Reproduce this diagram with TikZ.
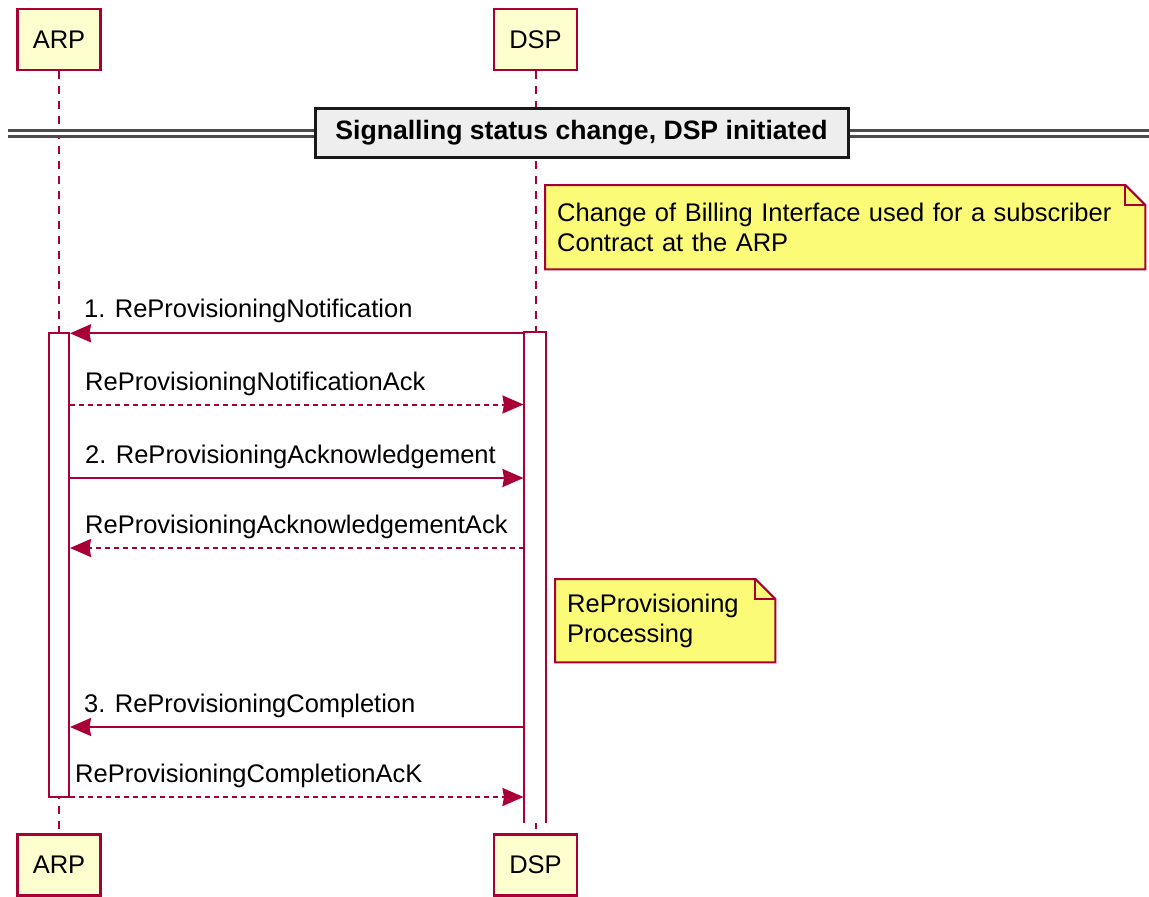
\documentclass[tikz,border=0pt]{standalone}
\usepackage{fontspec}
\setmainfont{Liberation Sans}
\usetikzlibrary{positioning, arrows.meta, backgrounds}

\definecolor{umlborder}{HTML}{A80036}
\definecolor{umlpart}{HTML}{FEFECE}
\definecolor{umlnote}{HTML}{FBFB77}
\definecolor{umldiv}{HTML}{EEEEEE}

\newcommand{\umlfont}{\fontsize{25.5}{30}\selectfont}

\tikzset{
    participant/.style={draw=umlborder, fill=umlpart, line width=2.2pt,
        minimum width=83pt, minimum height=61pt, inner sep=0pt, font=\umlfont},
    lifeline/.style={draw=umlborder, line width=2pt, dash pattern=on 8pt off 7pt},
    actbar/.style={draw=umlborder, fill=white, line width=2pt,
        minimum width=20.5pt, inner sep=0pt},
    msgline/.style={draw=umlborder, line width=2pt,
        -{Stealth[length=21pt, width=18pt, inset=1.5pt]}},
    replyline/.style={msgline, dash pattern=on 5pt off 4pt},
    msglabel/.style={anchor=base west, inner sep=0pt, font=\umlfont},
    notebox/.style={anchor=north west, inner xsep=12pt, inner ysep=0pt,
        align=left, font=\umlfont},
    noteshape/.style={draw=umlborder, fill=umlnote, line width=2pt},
    divbox/.style={draw=black!90, fill=umldiv, line width=3pt,
        minimum width=533pt, minimum height=49pt,
        font=\fontsize{26.6}{30}\selectfont\bfseries},
    divline/.style={draw=black!70, line width=2.2pt, double=white, double distance=3.8pt},
}

\begin{document}
\begin{tikzpicture}[x=1pt, y=-1pt]
    \useasboundingbox (0,0) rectangle (1149,897);

    % participants
    \node[participant] (arptop) at (59,39.5) {ARP};
    \node[participant] (dsptop) at (535.5,39.5) {DSP};
    \node[participant] (arpbot) at (59,865) {ARP};
    \node[participant] (dspbot) at (535.5,865) {DSP};

    % lifelines
    \draw[lifeline] (arptop.south) -- (arpbot.north);
    \draw[lifeline] (dsptop.south) -- (dspbot.north);

    % divider
    \node[divbox] (divider) at (581.5,132.5) {Signalling status change, DSP initiated};
    \coordinate (divl) at (8,133.5);
    \coordinate (divr) at (1149,133.5);
    \draw[divline] (divl) -- (divider.west |- divl);
    \draw[divline] (divider.east |- divl) -- (divr);

    % activation bars
    \node[actbar, minimum height=464pt] (arpbar) at (58.75,565.3) {};
    \path[actbar, draw=none, fill=none, minimum height=488.7pt] node (dspbar) at (534.75,577.65) {};
    \path[fill=white, draw=umlborder, line width=2pt]
        (dspbar.south west) |- (dspbar.north east) -- (dspbar.south east);

    % notes
    \node[notebox, text width=576pt, minimum height=84pt] (note1) at (545,185)
        {Change of Billing Interface used for a subscriber\\Contract at the ARP};
    \node[notebox, text width=196pt, minimum height=83pt] (note2) at (555,579)
        {ReProvisioning\\Processing};
    \begin{scope}[on background layer]
        \draw[noteshape] (note1.north west) -- ([xshift=-20pt]note1.north east)
            -- ([yshift=-20pt]note1.north east) -- (note1.south east)
            -- (note1.south west) -- cycle;
        \draw[noteshape, fill=none] ([xshift=-20pt]note1.north east)
            |- ([yshift=-20pt]note1.north east);
        \draw[noteshape] (note2.north west) -- ([xshift=-20pt]note2.north east)
            -- ([yshift=-20pt]note2.north east) -- (note2.south east)
            -- (note2.south west) -- cycle;
        \draw[noteshape, fill=none] ([xshift=-20pt]note2.north east)
            |- ([yshift=-20pt]note2.north east);
    \end{scope}

    % messages
    \coordinate (y1) at (0,333.3);
    \coordinate (y2) at (0,404.5);
    \coordinate (y3) at (0,478);
    \coordinate (y4) at (0,548);
    \coordinate (y5) at (0,727);
    \coordinate (y6) at (0,797);

    \draw[msgline] (dspbar.west |- y1) -- (arpbar.east |- y1);
    \node[msglabel] (lbl1) at ([xshift=14pt, yshift=16pt]arpbar.east |- y1) {1. ReProvisioningNotification};

    \draw[replyline] (arpbar.east |- y2) -- (dspbar.west |- y2);
    \node[msglabel] (lbl2) at ([xshift=15pt, yshift=14.5pt]arpbar.east |- y2) {ReProvisioningNotificationAck};

    \draw[msgline] (arpbar.east |- y3) -- (dspbar.west |- y3);
    \node[msglabel] (lbl3) at ([xshift=15pt, yshift=14.5pt]arpbar.east |- y3) {2. ReProvisioningAcknowledgement};

    \draw[replyline] (dspbar.west |- y4) -- (arpbar.east |- y4);
    \node[msglabel] (lbl4) at ([xshift=15pt, yshift=14.5pt]arpbar.east |- y4) {ReProvisioningAcknowledgementAck};

    \draw[msgline] (dspbar.west |- y5) -- (arpbar.east |- y5);
    \node[msglabel] (lbl5) at ([xshift=14pt, yshift=14.5pt]arpbar.east |- y5) {3. ReProvisioningCompletion};

    \draw[replyline] (arpbar.east |- y6) -- (dspbar.west |- y6);
    \node[msglabel] (lbl6) at ([xshift=5pt, yshift=14.5pt]arpbar.east |- y6) {ReProvisioningCompletionAcK};
\end{tikzpicture}
\end{document}
